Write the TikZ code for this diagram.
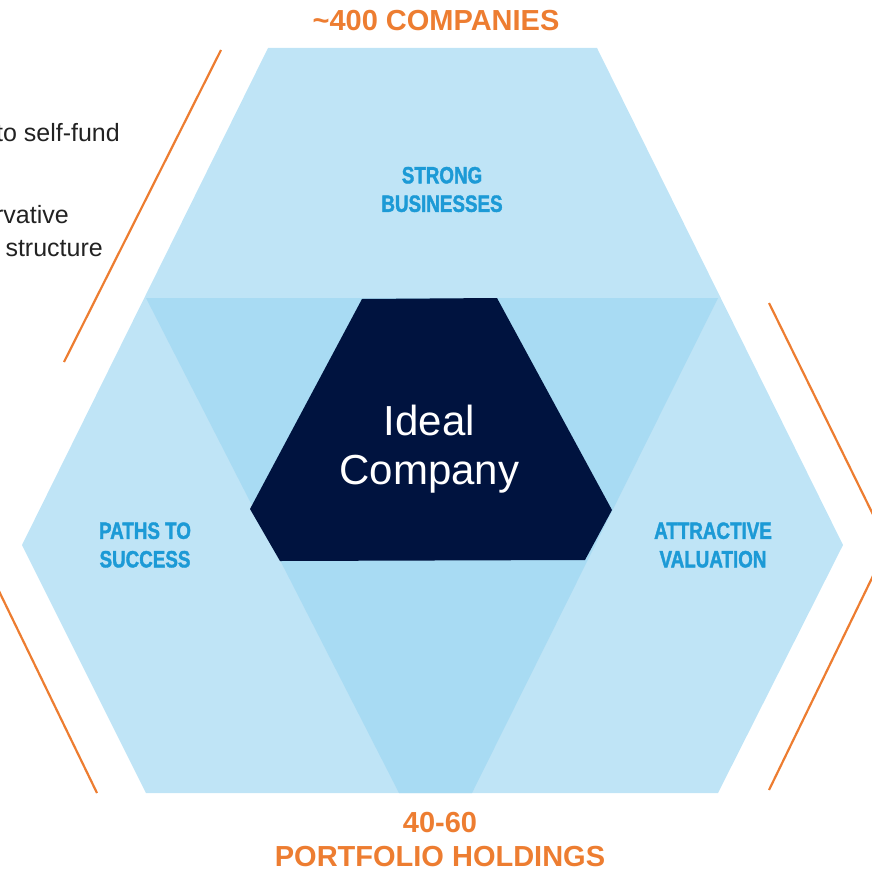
\documentclass[tikz,border=0pt]{standalone}
\usepackage{fontspec}
\setmainfont{Liberation Sans}
\newfontfamily\condfont[FakeStretch=0.80, FakeBold=1.6]{Liberation Sans Bold}
\definecolor{lightsky}{HTML}{BFE4F6}
\definecolor{midsky}{HTML}{A8DBF3}
\definecolor{navyc}{HTML}{00133F}
\definecolor{labelblue}{HTML}{1C9AD6}
\definecolor{orangec}{HTML}{ED7D31}
\definecolor{textgray}{HTML}{222222}
\tikzset{
  orangeline/.style={draw=orangec, line width=2.2pt},
  headtext/.style={text=orangec, font=\bfseries\fontsize{29}{34}\selectfont, inner sep=0pt, align=center},
  seglabel/.style={text=labelblue, font=\condfont\fontsize{23.5}{28.5}\selectfont, inner sep=0pt, align=center},
  sidetext/.style={text=textgray, font=\fontsize{25}{33}\selectfont, inner sep=0pt, anchor=base east},
}
\begin{document}
\begin{tikzpicture}[x=1pt,y=-1pt]
\useasboundingbox (0,0) rectangle (871,872);
% outer light hexagon
\fill[lightsky] (268,48) -- (597,48) -- (843,545) -- (718,793) -- (146,793) -- (22,545) -- cycle;
% darker overlap region
\fill[midsky] (146,298) -- (718,298) -- (472,793) -- (399,793) -- cycle;
% centre
\fill[navyc] (362,299) -- (497,298) -- (612,510) -- (585,560) -- (280,561) -- (250,509) -- cycle;
% orange brackets
\draw[orangeline] (221,50) -- (64,362);
\draw[orangeline] (-3,587) -- (97,793);
\draw[orangeline] (769,303) -- (888,545) -- (769,790);
% texts
\node[headtext, anchor=base] (top) at (436,31) {\textasciitilde400 COMPANIES};
\node[headtext, anchor=north] (bottom) at (440,812) {40-60\\PORTFOLIO HOLDINGS};
\node[seglabel] (strong) at (442,189.5) {STRONG\\BUSINESSES};
\node[seglabel] (paths) at (145,545) {PATHS TO\\SUCCESS};
\node[seglabel] (attr) at (713,545) {ATTRACTIVE\\VALUATION};
\node[text=white, font=\fontsize{42}{49}\selectfont, inner sep=0pt, align=center, anchor=north] (ideal) at (429.5,405) {Ideal\\Company};
\node[sidetext] (s1) at (120,141) {to self-fund};
\node[sidetext] (s2) at (69,223) {rvative};
\node[sidetext] (s3) at (103,256) {structure};
\end{tikzpicture}
\end{document}
